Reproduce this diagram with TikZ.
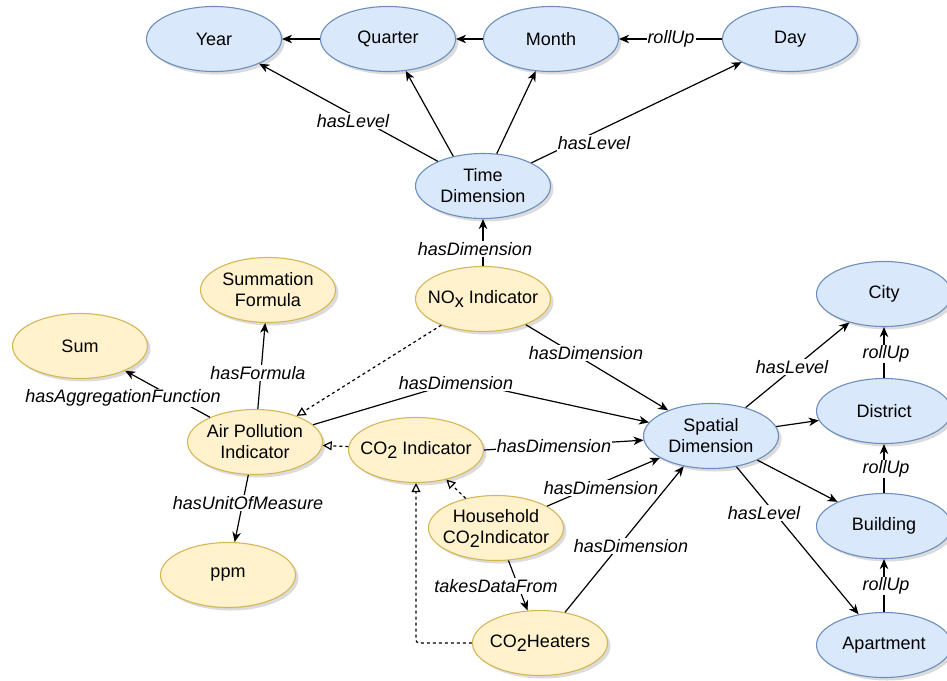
\documentclass[tikz,border=0pt]{standalone}
\usepackage{fontspec}
\setmainfont{Liberation Sans}
\usetikzlibrary{shapes.geometric,arrows.meta,shadows}

\definecolor{dimfill}{HTML}{DAE8FC}
\definecolor{dimline}{HTML}{6C8EBF}
\definecolor{indfill}{HTML}{FFF2CC}
\definecolor{indline}{HTML}{D6B656}

% lowered character, as in CO2 and NOx
\newcommand{\lowr}[1]{\raisebox{-4pt}{#1}}

\begin{document}
\begin{tikzpicture}[x=1pt,y=-1pt,
  obj/.style={ellipse, draw, line width=1.1pt, minimum width=135pt, minimum height=65pt,
    inner xsep=-24pt, inner ysep=0pt, align=center,
    font=\fontsize{18}{21}\selectfont,
    drop shadow={shadow xshift=3pt, shadow yshift=-3pt, fill=black!28}},
  dimobj/.style={obj, fill=dimfill, draw=dimline},
  indobj/.style={obj, fill=indfill, draw=indline},
  rel/.style={line width=1.2pt, -{Stealth[length=10pt,width=8.5pt,inset=3pt]}},
  isa/.style={line width=1.2pt, dash pattern=on 3pt off 3pt,
    -{Triangle[open,length=9pt,width=9pt]}},
  lbl/.style={fill=white, inner sep=1pt, font=\fontsize{18}{21}\selectfont\itshape}]

\useasboundingbox (0,0) rectangle (947,680);

% time hierarchy
\node[dimobj] (year)    at (214,39)  {Year};
\node[dimobj] (quarter) at (388,39)  {Quarter};
\node[dimobj] (month)   at (551,39)  {Month};
\node[dimobj] (day)     at (790,39)  {Day};
\node[dimobj] (td)      at (483,186) {Time\\Dimension};

% indicators
\node[indobj] (nox)  at (483,299) {NO\lowr{x} Indicator};
\node[indobj] (sumf) at (268,290) {Summation\\Formula};
\node[indobj] (sum)  at (80,346)  {Sum};
\node[indobj] (ap)   at (255,442) {Air Pollution\\Indicator};
\node[indobj] (co2)  at (416,450) {CO\lowr{2} Indicator};
\node[indobj] (hh)   at (496,528) {Household\\CO\lowr{2}Indicator};
\node[indobj] (heat) at (540,643) {CO\lowr{2}Heaters};
\node[indobj] (ppm)  at (228,575) {ppm};

% spatial hierarchy
\node[dimobj] (sp)       at (711,436) {Spatial\\Dimension};
\node[dimobj] (city)     at (884,294) {City};
\node[dimobj] (district) at (884,411) {District};
\node[dimobj] (building) at (884,526) {Building};
\node[dimobj] (apt)      at (884,645) {Apartment};

\coordinate (bendA) at (460,381);

% relations
\draw[rel] (quarter) -- (year);
\draw[rel] (month) -- (quarter);
\draw[rel] (day) -- (month);
\draw[rel] (td) -- (year);
\draw[rel] (td.135) -- (quarter);
\draw[rel] (td.67) -- (month);
\draw[rel] (td) -- (day);
\draw[rel] (nox) -- (td);
\draw[rel] (nox) -- (sp);
\draw[isa] (nox) -- (ap);
\draw[rel] (ap) -- (sumf);
\draw[rel] (ap) -- (sum);
\draw[rel] (ap) -- (ppm);
\draw[rel] (ap) -- (bendA) -- (sp);
\draw[isa] (co2) -- (ap);
\draw[rel] (co2.east) -- (sp);
\draw[isa] (hh) -- (co2);
\draw[rel] (hh) -- (sp);
\draw[rel] (hh) -- (heat);
\draw[isa, rounded corners=3pt] (heat.west) -| (co2.south);
\draw[rel] (heat) -- (sp.228);
\draw[rel] (sp) -- (city);
\draw[rel] (sp) -- (district);
\draw[rel] (sp) -- (building);
\draw[rel] (sp) -- (apt);
\draw[rel] (district) -- (city);
\draw[rel] (building) -- (district);
\draw[rel] (apt) -- (building);

% relation labels
\node[lbl] (l1)  at (671,39)  {rollUp};
\node[lbl] (l2)  at (353,121) {hasLevel};
\node[lbl] (l3)  at (594,143) {hasLevel};
\node[lbl] (l4)  at (475,249) {hasDimension};
\node[lbl] (l5)  at (586,353) {hasDimension};
\node[lbl] (l6)  at (456,383) {hasDimension};
\node[lbl] (l7)  at (258,373) {hasFormula};
\node[lbl] (l8)  at (123,398) {hasAggregationFunction};
\node[lbl] (l9)  at (248,503) {hasUnitOfMeasure};
\node[lbl] (l10) at (554,446) {hasDimension};
\node[lbl] (l11) at (601,488) {hasDimension};
\node[lbl] (l12) at (631,546) {hasDimension};
\node[lbl] (l13) at (496,586) {takesDataFrom};
\node[lbl] (l14) at (792,367) {hasLevel};
\node[lbl] (l15) at (886,354) {rollUp};
\node[lbl] (l16) at (886,469) {rollUp};
\node[lbl] (l17) at (764,513) {hasLevel};
\node[lbl] (l18) at (886,586) {rollUp};
\end{tikzpicture}
\end{document}
